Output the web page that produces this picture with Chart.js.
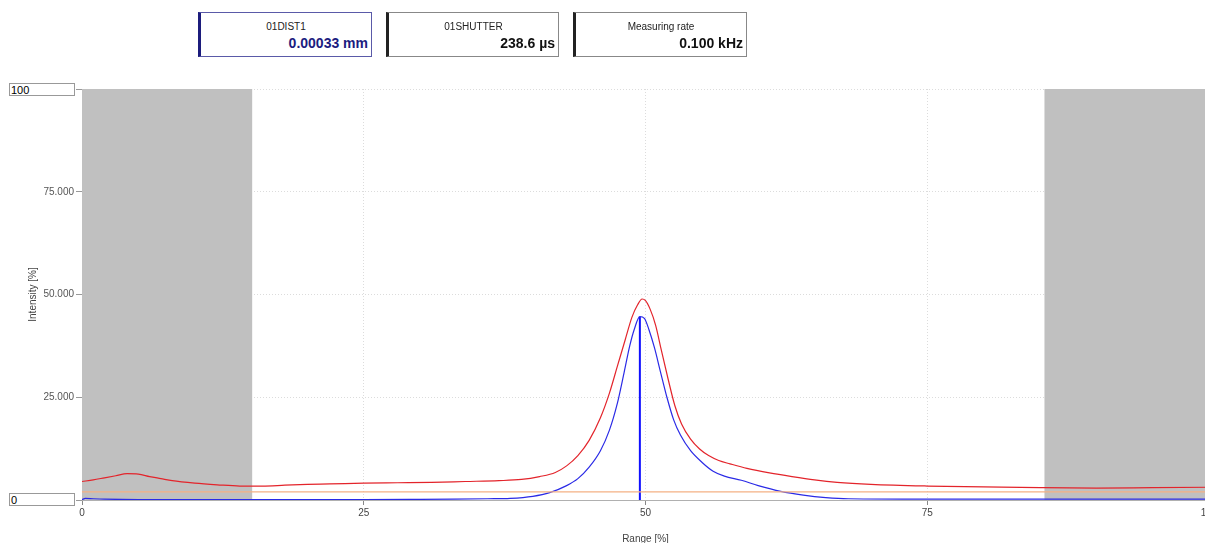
<!DOCTYPE html>
<html>
<head>
<meta charset="utf-8">
<script src="https://cdn.jsdelivr.net/npm/chart.js@4"></script>
<style>
  body { margin: 0; background: #fff; overflow: hidden; font-family: Arial, "Liberation Sans", sans-serif; }
  #wrap { position: absolute; left: 0; top: 0; width: 1215px; height: 549px; }
  .box { position: absolute; top: 12px; height: 45px; background: #fff; border: 1px solid #888; border-left: 3px solid #222; box-sizing: border-box; }
  .box .t { position: absolute; top: 8px; left: 0; right: 0; text-align: center; font-size: 10px; color: #222; }
  .box .v { position: absolute; top: 22px; right: 3px; font-size: 14px; font-weight: bold; color: #111; }
  .lim { position: absolute; left: 9px; width: 66px; height: 13px; border: 1px solid #999; box-sizing: border-box; font-size: 11px; line-height: 12px; padding-left: 1px; color: #000; background: #fff; }
</style>
</head>
<body>
<div id="wrap"><canvas id="chart" width="1215" height="549"></canvas></div>

<div class="box" style="left:198px;width:174px;border-color:#5a5aa8;border-left-color:#1c1c7c">
  <div class="t">01DIST1</div><div class="v" style="color:#1c1c80">0.00033 mm</div>
</div>
<div class="box" style="left:386px;width:173px">
  <div class="t">01SHUTTER</div><div class="v">238.6 µs</div>
</div>
<div class="box" style="left:573px;width:174px">
  <div class="t">Measuring rate</div><div class="v">0.100 kHz</div>
</div>
<div class="lim" style="top:83px">100</div>
<div class="lim" style="top:493px">0</div>

<script>
// range in %, intensity in %
const redX = [0, 1, 2, 3, 4, 5, 6, 7, 8, 10, 12, 14, 16, 18, 20, 22, 25, 28, 31, 34, 37, 39, 40.6, 42, 43, 44, 45, 46, 46.8, 47.5, 48.2, 48.8, 49.3, 49.7, 50, 50.4, 50.9, 51.4, 52, 52.6, 53.2, 54, 54.8, 55.6, 56.5, 57.5, 59, 61, 63, 65, 67, 70, 75, 80, 85, 90, 95, 100]
const redY = [4.5, 4.9, 5.4, 5.9, 6.4, 6.3, 5.7, 5.2, 4.7, 4.1, 3.7, 3.4, 3.4, 3.6, 3.8, 3.9, 4.1, 4.2, 4.3, 4.5, 4.7, 5.0, 5.7, 6.7, 8.3, 10.8, 14.5, 20, 26, 32.5, 39, 44.5, 47.5, 48.9, 48.5, 46.5, 42.5, 36.5, 29.5, 23, 18.5, 14.8, 12.4, 10.8, 9.6, 8.8, 7.7, 6.6, 5.7, 4.9, 4.3, 3.8, 3.4, 3.2, 3.0, 2.9, 3.0, 3.1]

const blueX = [0, 0.3, 1, 2, 5, 10, 15, 20, 25, 30, 33, 36, 38, 40, 41.5, 43, 44, 45, 46, 46.8, 47.5, 48.1, 48.6, 49, 49.5, 49.9, 50.3, 50.8, 51.3, 51.9, 52.5, 53.1, 54, 55, 56, 57, 58.5, 60, 62, 64, 66, 68, 75, 85, 100]
const blueY = [0.1, 0.4, 0.3, 0.2, 0.1, 0.1, 0.1, 0.1, 0.1, 0.15, 0.2, 0.3, 0.4, 0.9, 1.8, 3.5, 5.2, 8.0, 12, 17, 23.5, 31, 37.5, 41.5, 44.6, 44.2, 41.5, 37, 31.5, 25, 19.5, 15.8, 12, 9.2, 7.0, 5.8, 4.8, 3.5, 2.1, 1.2, 0.6, 0.3, 0.2, 0.2, 0.2]

const thresholdLevel = 2.0
const peakPos = 49.5
const peakValue = 44.6
const maskedRanges = [[0, 15.1], [85.4, 100]]
const xTicks = [0, 25, 50, 75, 100]
const yTicks = [0, 25, 50, 75, 100]

const font = { family: 'Arial, "Liberation Sans", sans-serif', size: 10 }

const toPoints = (xs, ys) => xs.map((x, i) => ({x: x, y: ys[i]}))

const bands = {
    id: 'bands',
    beforeDatasetsDraw(chart){
        const {ctx, chartArea, scales} = chart
        ctx.save()
        ctx.fillStyle = '#c0c0c0'
        maskedRanges.forEach(r => {
            const a = scales.x.getPixelForValue(r[0])
            const b = scales.x.getPixelForValue(r[1])
            ctx.fillRect(a, chartArea.top, b - a, chartArea.bottom - chartArea.top)
        })
        ctx.restore()
    }
}

new Chart(document.getElementById('chart'), {
    type: 'line',
    data: {
        datasets: [
            {data: [{x: 0, y: thresholdLevel}, {x: 100, y: thresholdLevel}], borderColor: '#f4b184', borderWidth: 1.2},
            {data: toPoints(redX, redY), borderColor: '#e3242b', borderWidth: 1.2, cubicInterpolationMode: 'monotone'},
            {data: toPoints(blueX, blueY), borderColor: '#2a2ae6', borderWidth: 1.2, cubicInterpolationMode: 'monotone'},
            {data: [{x: peakPos, y: 0}, {x: peakPos, y: peakValue}], borderColor: '#1010ff', borderWidth: 2}
        ]
    },
    options: {
        responsive: false,
        animation: false,
        parsing: false,
        elements: {point: {radius: 0}},
        layout: {padding: {left: 25, top: 89, right: 6, bottom: 0}},
        plugins: {legend: {display: false}, tooltip: {enabled: false}},
        scales: {
            x: {
                type: 'linear', min: 0, max: 100,
                afterBuildTicks: s => { s.ticks = xTicks.map(v => ({value: v})) },
                afterFit: s => { s.height = 49; s.paddingLeft = 0; s.paddingRight = 0 },
                ticks: {font: font, color: '#444', maxRotation: 0, padding: 2, autoSkip: false},
                grid: {color: '#dcdcdc', tickColor: '#888', tickLength: 5, tickBorderDash: []},
                border: {color: '#b0b0b0', dash: [1, 2]},
                title: {display: true, text: 'Range [%]', font: font, color: '#444', padding: {top: 0, bottom: 4}}
            },
            y: {
                type: 'linear', min: 0, max: 100,
                afterBuildTicks: s => { s.ticks = yTicks.map(v => ({value: v})) },
                afterFit: s => { s.width = 57; s.paddingTop = 0; s.paddingBottom = 0 },
                ticks: {font: font, color: '#555', padding: 2,
                    callback: v => (v === 0 || v === 100) ? '' : v.toFixed(3)},
                grid: {color: '#dcdcdc', tickColor: '#999', tickLength: 6, tickBorderDash: []},
                border: {color: '#b0b0b0', dash: [1, 2]},
                title: {display: true, text: 'Intensity [%]', font: font, color: '#444', padding: 2}
            }
        }
    },
    plugins: [bands]
})
</script>
</body>
</html>
